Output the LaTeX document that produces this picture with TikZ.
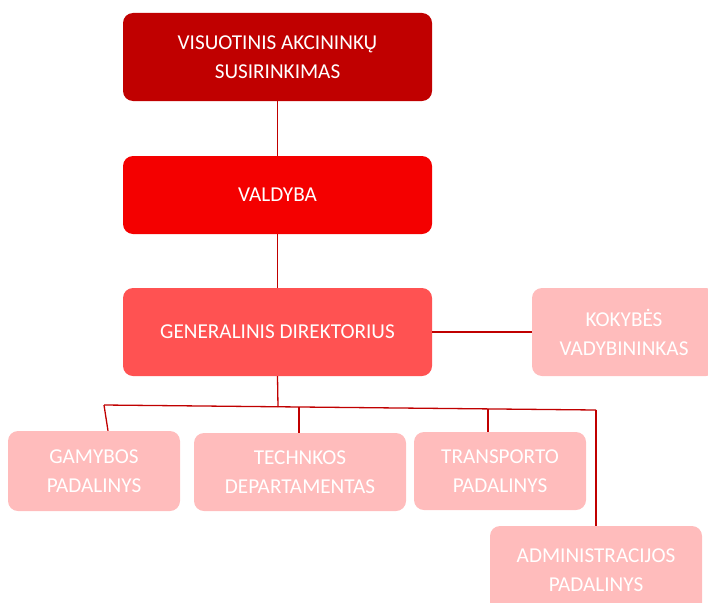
\documentclass[tikz,border=0pt]{standalone}
\usepackage{fontspec}
\setmainfont{Carlito}
\definecolor{cTop}{HTML}{C00000}
\definecolor{cMid}{HTML}{F40000}
\definecolor{cGen}{HTML}{FF5252}
\definecolor{cLight}{HTML}{FFBCBC}
\definecolor{cLine}{HTML}{C00000}
\tikzset{
  orgbox/.style={rectangle, rounded corners=10pt, draw=none, text=white, align=center,
    inner sep=0pt, font=\fontsize{21.2}{29}\selectfont},
  lowtext/.style={execute at begin node={\vspace*{5pt}}},
  link/.style={draw=cLine, line width=1.3pt}
}
\begin{document}
\begin{tikzpicture}[x=1pt,y=-1pt]
\clip (0,0) rectangle (708,602);
\node[orgbox, fill=cTop, minimum width=309pt, minimum height=88pt] (vas) at (277.5,57) {VISUOTINIS AKCININKŲ\\SUSIRINKIMAS};
\node[orgbox, fill=cMid, minimum width=309pt, minimum height=78pt] (val) at (277.5,195) {VALDYBA};
\node[orgbox, fill=cGen, minimum width=309pt, minimum height=88pt] (gen) at (277.5,332) {GENERALINIS DIREKTORIUS};
\node[orgbox, fill=cLight, minimum width=184pt, minimum height=88pt] (kok) at (624,332) {KOKYBĖS\\VADYBININKAS};
\node[orgbox, fill=cLight, minimum width=172pt, minimum height=80pt] (gam) at (94,471) {GAMYBOS\\PADALINYS};
\node[orgbox, fill=cLight, minimum width=212pt, minimum height=78pt] (tech) at (300,472) {TECHNKOS\\DEPARTAMENTAS};
\node[orgbox, fill=cLight, minimum width=172pt, minimum height=78pt] (tra) at (500,471) {TRANSPORTO\\PADALINYS};
\node[orgbox, fill=cLight, minimum width=212pt, minimum height=88pt] (adm) at (596,570) {ADMINISTRACIJOS\\PADALINYS};
\coordinate (busL) at (104,405);
\coordinate (busR) at (596,410);
\coordinate (busM) at (278,407);
\draw[link] (vas.south) -- (val.north);
\draw[link] (val.south) -- (gen.north);
\draw[link] (gen.east) -- (kok.west);
\draw[link] (gen.south) -- (busM);
\draw[link] (busL) -- (busR);
\draw[link] (busL) -- ([xshift=14pt]gam.north);
\draw[link] ([xshift=-1pt]tech.north |- busM) -- ([xshift=-1pt]tech.north);
\draw[link] ([xshift=-12pt]tra.north |- 0,408.5) -- ([xshift=-12pt]tra.north);
\draw[link] (busR) -- (adm.north);
\end{tikzpicture}
\end{document}
